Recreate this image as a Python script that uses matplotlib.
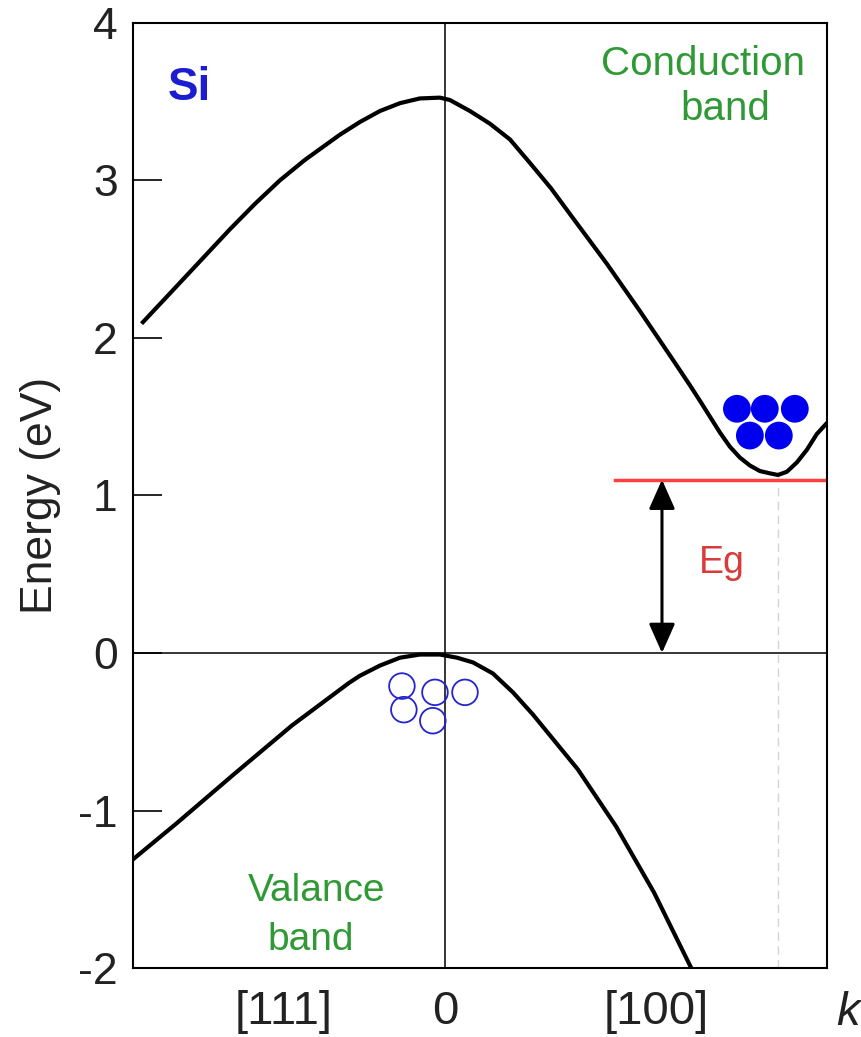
import numpy as np
import matplotlib
matplotlib.use("Agg")
import matplotlib.pyplot as plt

plt.rcParams['font.family'] = ['Liberation Sans', 'DejaVu Sans']
plt.rcParams['axes.unicode_minus'] = False

# conduction band (k in arbitrary units, E in eV)
k_cond = [-1.398, -1.227, -1.111, -0.995, -0.880, -0.764, -0.648, -0.486, -0.394, -0.301,
          -0.208, -0.116, -0.023, 0.023, 0.116, 0.208, 0.301, 0.394, 0.491, 0.593,
          0.750, 0.903, 1.056, 1.134, 1.181, 1.227, 1.273, 1.319, 1.366, 1.412,
          1.458, 1.505, 1.542, 1.583, 1.630, 1.676, 1.722, 1.769]
e_cond = [2.10, 2.35, 2.52, 2.69, 2.85, 3.00, 3.13, 3.29, 3.37, 3.44,
          3.49, 3.52, 3.525, 3.51, 3.44, 3.36, 3.26, 3.11, 2.95, 2.76,
          2.47, 2.17, 1.86, 1.70, 1.60, 1.50, 1.40, 1.31, 1.24, 1.19,
          1.155, 1.14, 1.13, 1.15, 1.21, 1.29, 1.39, 1.46]

# valence band
k_val = [-1.444, -1.241, -0.977, -0.708, -0.444, -0.394, -0.301, -0.208, -0.116, -0.023,
         0.056, 0.130, 0.222, 0.315, 0.407, 0.616, 0.792, 0.968, 1.144]
e_val = [-1.31, -1.08, -0.77, -0.46, -0.19, -0.145, -0.08, -0.03, -0.01, -0.01,
         -0.03, -0.06, -0.13, -0.25, -0.39, -0.74, -1.10, -1.52, -2.01]

# electrons (filled) and holes (open)
k_elec = [1.352, 1.481, 1.620, 1.412, 1.546]
e_elec = [1.55, 1.55, 1.55, 1.38, 1.38]
k_hole = [-0.199, -0.046, 0.093, -0.190, -0.056]
e_hole = [-0.21, -0.25, -0.25, -0.36, -0.43]

eg = 1.10
k_min = 1.542
k_arrow = 1.005
k_gap_start = 0.787

k_ticks = [-0.745, 0.0, 0.977]
k_labels = ['[111]', '0', '[100]']
e_ticks = [-2, -1, 0, 1, 2, 3, 4]

fig = plt.figure(figsize=(8.61, 10.37), dpi=100)
ax = fig.add_axes([0.1545, 0.0665, 0.806, 0.9115])
ax.set_xlim(-1.444, 1.769)
ax.set_ylim(-2, 4)

ax.axhline(0, color='black', lw=1.1, zorder=1)
ax.axvline(0, color='black', lw=1.1, zorder=1)
ax.plot([k_min, k_min], [-2, min(e_cond)], color='#d4d4d4', lw=1, dashes=(6, 4), zorder=1)

ax.plot(k_cond, e_cond, color='black', lw=3, solid_joinstyle='round', zorder=3)
ax.plot(k_val, e_val, color='black', lw=3, solid_joinstyle='round', zorder=3)

ax.plot([k_gap_start, 1.769], [eg, eg], color='#ff4040', lw=2.5, zorder=2)
ax.annotate('', xy=(k_arrow, eg), xytext=(k_arrow, 0),
            arrowprops=dict(arrowstyle='<|-|>,head_length=0.9,head_width=0.4',
                            mutation_scale=20, color='black', lw=2.2,
                            shrinkA=0, shrinkB=0))

ax.scatter(k_elec, e_elec, s=400, color='#0000ee', edgecolors='none', zorder=4)
ax.scatter(k_hole, e_hole, s=340, facecolors='none', edgecolors='#2424d0', linewidths=1.3, zorder=4)

ax.text(0.050, 0.9185, 'Si', transform=ax.transAxes, color='#1c1cd0', fontsize=33,
        fontweight='bold', ha='left', va='baseline')
green = '#2f9a35'
ax.text(0.821, 0.945, 'Conduction', transform=ax.transAxes, color=green, fontsize=29,
        ha='center', va='baseline')
ax.text(0.854, 0.897, 'band', transform=ax.transAxes, color=green, fontsize=29,
        ha='center', va='baseline')
ax.text(0.264, 0.071, 'Valance', transform=ax.transAxes, color=green, fontsize=28,
        ha='center', va='baseline')
ax.text(0.256, 0.019, 'band', transform=ax.transAxes, color=green, fontsize=28,
        ha='center', va='baseline')
ax.text(0.849, 0.418, 'Eg', transform=ax.transAxes, color='#d93a3a', fontsize=27,
        ha='center', va='baseline')
ax.text(1.030, -0.060, 'k', transform=ax.transAxes, color='#222222', fontsize=34,
        fontstyle='italic', ha='center', va='baseline')

ax.set_yticks(e_ticks)
ax.set_xticks(k_ticks)
ax.set_xticklabels(k_labels)
ax.tick_params(axis='y', direction='in', length=21, width=1.2, pad=11,
               labelsize=32, labelcolor='#222222')
ax.tick_params(axis='x', length=0, pad=16, labelsize=34, labelcolor='#222222')
ax.set_ylabel('Energy (eV)', fontsize=32, color='#222222', labelpad=12)
for s in ax.spines.values():
    s.set_linewidth(1.5)

fig.savefig('out.png', dpi=100)
